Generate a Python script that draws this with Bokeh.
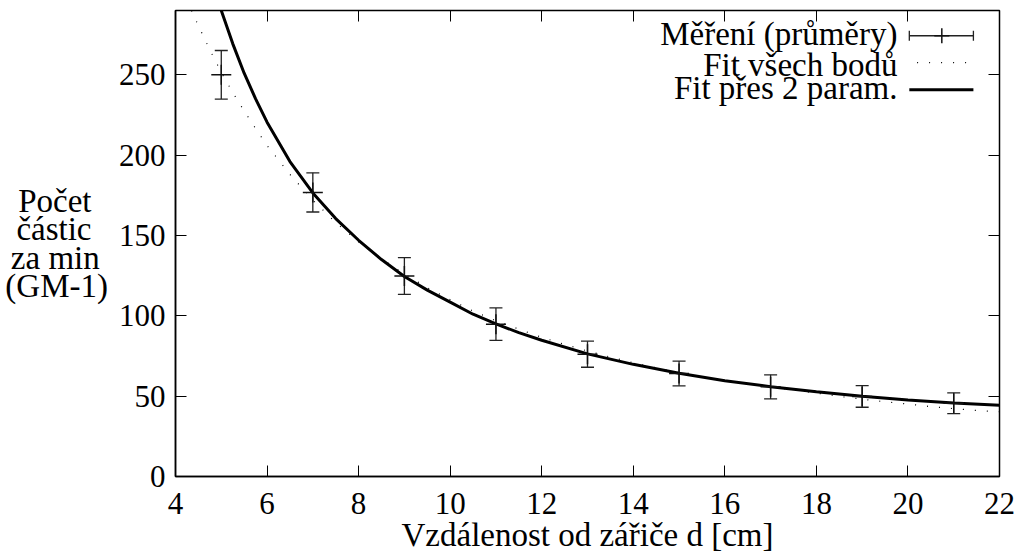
from bokeh.plotting import figure
from bokeh.models import (LinearAxis, FixedTicker, Whisker, TeeHead,
                          ColumnDataSource, Label)
from bokeh.embed import file_html
from bokeh.resources import INLINE

# ---- data ----
d_meas = [5, 7, 9, 11, 13, 15, 17, 19, 21]
n_meas = [250.0, 176.8, 124.8, 94.8, 76.1, 64.1, 55.8, 49.8, 45.6]
n_err = [15.1, 12.2, 11.4, 10.1, 8.1, 7.7, 7.5, 6.7, 6.5]

# fit with 2 parameters (solid)
fit2_d = [5.0, 5.25, 5.5, 5.75, 6.0, 6.5, 7.0, 7.5, 8.0, 8.5, 9.0, 9.5, 10.0,
          10.5, 11.0, 11.5, 12.0, 13.0, 14.0, 15.0, 16.0, 17.0, 18.0, 19.0,
          20.0, 21.0, 22.0]
fit2_n = [290.0, 269.4, 251.0, 235.0, 220.5, 196.0, 176.5, 160.5, 147.0,
          135.0, 124.5, 116.0, 108.5, 101.0, 95.0, 89.5, 84.8, 76.3, 69.8,
          64.3, 59.6, 55.9, 52.7, 49.9, 47.6, 45.8, 44.3]

# fit of all points (dotted)
fitall_d = [4.35, 4.5, 4.75, 5.0, 5.25, 5.5, 5.75, 6.0, 6.5, 7.0, 7.5, 8.0,
            8.5, 9.0, 9.5, 10.0, 10.5, 11.0, 11.5, 12.0, 12.5, 13.0, 13.5,
            14.0, 14.5, 15.0, 15.5, 16.0, 16.5, 17.0, 17.5, 18.0, 18.5,
            19.0, 19.5, 20.0, 20.5, 21.0, 21.5, 22.0]
fitall_n = [290.0, 280.5, 265.5, 251.5, 239.0, 227.5, 216.5, 206.0, 188.0,
            172.0, 158.0, 146.0, 135.5, 126.0, 117.5, 110.0, 103.0, 96.9,
            91.7, 86.6, 82.2, 78.1, 74.3, 70.8, 67.6, 64.6, 62.0, 59.7, 57.6,
            55.8, 53.8, 51.9, 49.9, 48.1, 46.5, 45.1, 43.5, 42.2, 41.1, 40.3]

x_ticks = [4, 6, 8, 10, 12, 14, 16, 18, 20, 22]
y_ticks = [0, 50, 100, 150, 200, 250]

legend_labels = ["Měření (průměry)", "Fit všech bodů", "Fit přes 2 param."]
x_label = "Vzdálenost od zářiče d [cm]"
# lines are right-aligned by Bokeh; no-break spaces pad them to look centred
NB = "\u00a0"
y_label = "\n".join(["Počet" + NB * 2, "částic" + NB * 2,
                     "za min" + NB, "(GM-1)"])

FONT = "Liberation Serif"

p = figure(width=1015, height=556, x_range=(4, 22), y_range=(0, 290),
           output_backend="svg", toolbar_location=None,
           min_border_left=175, min_border_right=16, min_border_top=10,
           min_border_bottom=80)
p.grid.visible = False
p.outline_line_color = "black"
p.outline_line_width = 1.5
p.background_fill_color = "white"
p.border_fill_color = "white"

for ax, tk in ((p.xaxis[0], x_ticks), (p.yaxis[0], y_ticks)):
    ax.ticker = FixedTicker(ticks=tk)
    ax.major_tick_in = 11
    ax.major_tick_out = 0
    ax.minor_tick_line_color = None
    ax.axis_line_color = "black"
    ax.axis_line_width = 1.5
    ax.major_tick_line_color = "black"
    ax.major_tick_line_width = 1
    ax.major_label_text_font = FONT
    ax.major_label_text_font_size = "31px"
    ax.major_label_text_color = "black"
    ax.axis_label_text_font = FONT
    ax.axis_label_text_font_size = "33px"
    ax.axis_label_text_font_style = "normal"
    ax.axis_label_text_color = "black"
p.xaxis.major_label_standoff = 16
p.yaxis.major_label_standoff = 10
p.xaxis.axis_label = x_label
p.xaxis.axis_label_standoff = 0
p.yaxis.axis_label = y_label
p.yaxis.axis_label_orientation = "horizontal"
p.yaxis.axis_label_standoff = 8
p.yaxis.axis_label_text_line_height = 0.78

# mirrored ticks on top and right
for loc, tk in (("above", x_ticks), ("right", y_ticks)):
    ax = LinearAxis(ticker=FixedTicker(ticks=tk), major_tick_in=11,
                    major_tick_out=0, minor_tick_line_color=None,
                    major_label_text_font_size="1px",
                    major_label_text_color=None, major_label_standoff=0,
                    axis_line_color=None, major_tick_line_color="black")
    p.add_layout(ax, loc)

# curves
p.line(fitall_d, fitall_n, line_color="black", line_width=1.2,
       line_dash="1 11")
p.line(fit2_d, fit2_n, line_color="black", line_width=3)

# measurements with error bars
up = [n + e for n, e in zip(n_meas, n_err)]
lo = [n - e for n, e in zip(n_meas, n_err)]
src = ColumnDataSource(dict(x=d_meas, y=n_meas, upper=up, lower=lo))
p.add_layout(Whisker(source=src, base="x", upper="upper", lower="lower",
                     line_color="#222222", line_width=1.3,
                     upper_head=TeeHead(size=13, line_color="#222222",
                                        line_width=1.3),
                     lower_head=TeeHead(size=13, line_color="#222222",
                                        line_width=1.3)))
p.scatter(x="x", y="y", source=src, marker="cross", size=20,
          line_color="#111111", line_width=1.5)

# ---- legend (text right-aligned, sample to the right) ----
lg_y = [274.3, 257.5, 240.7]
lg_x0, lg_x1, lg_xc = 20.03, 21.43, 20.74
leg_src = ColumnDataSource(dict(base=[lg_y[0]], lower=[lg_x0], upper=[lg_x1]))
p.add_layout(Whisker(source=leg_src, base="base", lower="lower",
                     upper="upper", dimension="width",
                     line_color="#222222", line_width=1.3,
                     upper_head=TeeHead(size=10, line_color="#222222",
                                        line_width=1.3),
                     lower_head=TeeHead(size=10, line_color="#222222",
                                        line_width=1.3)))
p.scatter([lg_xc], [lg_y[0]], marker="cross", size=15, line_color="#111111",
          line_width=1.5)
p.line([20.2, lg_x1], [lg_y[1], lg_y[1]], line_color="black",
       line_width=1.2, line_dash="1 11")
p.line([lg_x0, lg_x1], [lg_y[2], lg_y[2]], line_color="black", line_width=3)

for txt, yb in zip(legend_labels, [442.5, 412, 389]):
    p.add_layout(Label(x=722, y=yb, x_units="screen", y_units="screen",
                       text=txt, text_font=FONT, text_font_size="33px",
                       text_align="right", text_baseline="alphabetic",
                       text_color="black"))

open("out.html", "w").write(file_html(p, INLINE))
